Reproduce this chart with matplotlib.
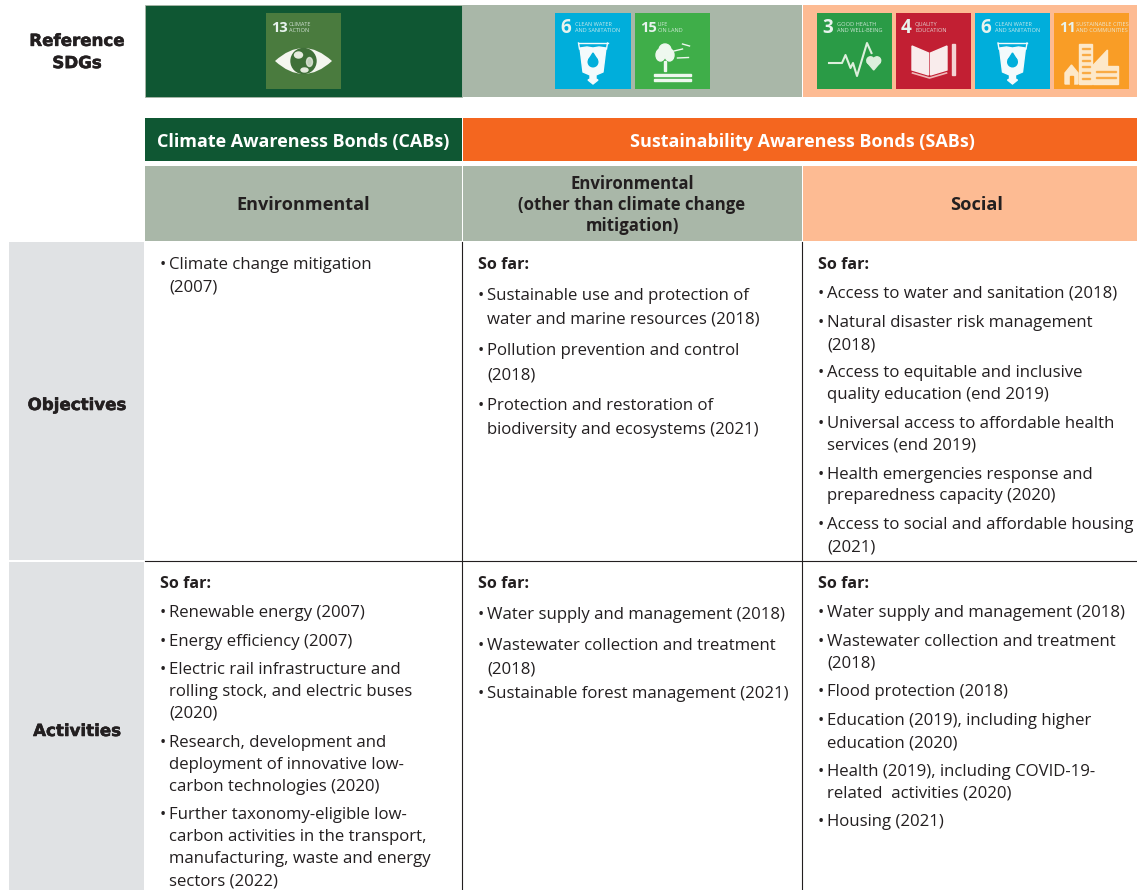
import matplotlib
matplotlib.use('Agg')
import matplotlib.pyplot as plt
from matplotlib.patches import Rectangle, Polygon, Ellipse, Circle, PathPatch
from matplotlib.path import Path
import matplotlib.patheffects as pe

plt.rcParams['font.family'] = ['Open Sans', 'DejaVu Sans']

DARK_GREEN = '#0f5733'
SAGE = '#a9b7a8'
ORANGE = '#f4661f'
PEACH = '#fdbb93'
GREY = '#e0e2e4'
INK = '#231f20'
NARROW = ['Liberation Sans Narrow', 'Open Sans']

# table text
band_titles = ['Climate Awareness Bonds (CABs)', 'Sustainability Awareness Bonds (SABs)']
col_titles = ['Environmental', 'Environmental\n(other than climate change\nmitigation)', 'Social']
row_titles = ['Objectives', 'Activities']

obj_env = ['• Climate change mitigation', ' (2007)']
obj_env_y = [263, 285]
obj_other = ['So far:', '• Sustainable use and protection of', ' water and marine resources (2018)',
             '• Pollution prevention and control', ' (2018)',
             '• Protection and restoration of', ' biodiversity and ecosystems (2021)']
obj_other_y = [263, 294, 318, 349, 373, 404, 428]
obj_social = ['So far:', '• Access to water and sanitation (2018)',
              '• Natural disaster risk management', ' (2018)',
              '• Access to equitable and inclusive', ' quality education (end 2019)',
              '• Universal access to affordable health', ' services (end 2019)',
              '• Health emergencies response and', ' preparedness capacity (2020)',
              '• Access to social and affordable housing', ' (2021)']
obj_social_y = [263, 292, 321, 343, 371, 393, 422, 444, 473, 494, 523, 545]

act_env = ['So far:', '• Renewable energy (2007)', '• Energy efficiency (2007)',
           '• Electric rail infrastructure and', ' rolling stock, and electric buses', ' (2020)',
           '• Research, development and', ' deployment of innovative low-', ' carbon technologies (2020)',
           '• Further taxonomy-eligible low-', ' carbon activities in the transport,',
           ' manufacturing, waste and energy', ' sectors (2022)']
act_env_y = [582, 611, 640, 668, 690, 712, 741, 763, 785, 813, 835, 857, 879]
act_other = ['So far:', '• Water supply and management (2018)',
             '• Wastewater collection and treatment', ' (2018)', '• Sustainable forest management (2021)']
act_other_y = [582, 613, 644, 668, 692]
act_social = ['So far:', '• Water supply and management (2018)',
              '• Wastewater collection and treatment', ' (2018)', '• Flood protection (2018)',
              '• Education (2019), including higher', ' education (2020)',
              '• Health (2019), including COVID-19-', ' related  activities (2020)', '• Housing (2021)']
act_social_y = [582, 611, 640, 662, 690, 719, 741, 770, 792, 820]

# SDG tiles: number, caption, colour
sdg13 = ('13', 'CLIMATE\nACTION', '#4a7b3e')
sdg6 = ('6', 'CLEAN WATER\nAND SANITATION', '#00aedb')
sdg15 = ('15', 'LIFE\nON LAND', '#3fae49')
sdg3 = ('3', 'GOOD HEALTH\nAND WELL-BEING', '#2a9b46')
sdg4 = ('4', 'QUALITY\nEDUCATION', '#c21f33')
sdg11 = ('11', 'SUSTAINABLE CITIES\nAND COMMUNITIES', '#f99d26')

fig = plt.figure(figsize=(11.37, 8.9), dpi=100)
ax = fig.add_axes([0, 0, 1, 1])
ax.set_xlim(0, 1137)
ax.set_ylim(890, 0)
ax.axis('off')


def box(x0, y0, x1, y1, color, **kw):
    ax.add_patch(Rectangle((x0, y0), x1 - x0, y1 - y0, facecolor=color, edgecolor='none', **kw))


def body(x, lines, ys):
    for line, y in zip(lines, ys):
        y = y + 2
        if line.startswith('• '):
            ax.text(x, y, '•', fontsize=12.1, color=INK, va='center')
            ax.text(x + 9, y, line[2:], fontsize=12.1, color=INK, va='center')
        elif line.startswith(' '):
            ax.text(x + 9, y, line[1:], fontsize=12.1, color=INK, va='center')
        else:
            ax.text(x, y, line, fontsize=11.6, color=INK, va='center', fontweight='bold')


def heavy(x, y, s):
    t = ax.text(x, y, s, fontsize=12, color=INK, fontweight='bold', ha='center', va='center',
                fontfamily=['DejaVu Sans'], linespacing=1.3)
    t.set_path_effects([pe.withStroke(linewidth=0.4, foreground=INK)])


def glyph(kind, cx, cy):
    if kind == '13':
        eye = Path([(cx - 28.5, cy), (cx, cy - 26), (cx + 28.5, cy), (cx, cy + 26), (cx - 28.5, cy)],
                   [Path.MOVETO, Path.CURVE3, Path.CURVE3, Path.CURVE3, Path.CURVE3])
        ax.add_patch(PathPatch(eye, facecolor='#f4f6ef', edgecolor='none'))
        ax.add_patch(Circle((cx, cy), 12.5, color='#3f6f38'))
        ax.add_patch(Ellipse((cx - 5, cy - 6), 8, 6, color='#e6ecdf'))
        ax.add_patch(Ellipse((cx + 6, cy + 1), 6, 9, color='#e6ecdf', alpha=0.8))
        ax.add_patch(Ellipse((cx + 1, cy + 9), 7, 4, color='#e6ecdf'))
    elif kind == '6':
        fill = '#f3fafc'
        ax.plot([cx - 14.5, cx + 14.5], [cy - 18, cy - 18], color=fill, lw=1)
        ax.plot([cx - 14.5, cx - 13.5], [cy - 18, cy - 12], color=fill, lw=1)
        ax.plot([cx + 14.5, cx + 13.5], [cy - 18, cy - 12], color=fill, lw=1)
        ax.add_patch(Polygon([(cx - 13, cy - 13), (cx - 6, cy - 14), (cx, cy - 13), (cx + 6, cy - 14),
                              (cx + 13, cy - 13), (cx + 10, cy + 11), (cx + 3, cy + 14), (cx + 3, cy + 18),
                              (cx + 5, cy + 19), (cx, cy + 23), (cx - 5, cy + 19), (cx - 3, cy + 18),
                              (cx - 3, cy + 14), (cx - 10, cy + 11)], color=fill))
        ax.add_patch(Circle((cx, cy + 1), 4.8, color=sdg6[2]))
        ax.add_patch(Polygon([(cx - 4.4, cy - 1), (cx, cy - 8), (cx + 4.4, cy - 1)], color=sdg6[2]))
    elif kind == '15':
        fill = '#eef8ef'
        ax.add_patch(Ellipse((cx - 12, cy - 6), 9, 12, color=fill))
        ax.add_patch(Ellipse((cx - 3, cy - 6), 9, 12, color=fill))
        ax.add_patch(Ellipse((cx - 7.5, cy - 11), 12, 12, color=fill))
        ax.add_patch(Rectangle((cx - 8.5, cy), 2, 10, color=fill))
        ax.add_patch(Rectangle((cx - 18.5, cy + 13), 37, 2.4, color=fill))
        ax.add_patch(Rectangle((cx - 18.5, cy + 17.5), 37, 2.4, color=fill))
        ax.plot([cx + 1.5, cx + 10], [cy - 10, cy - 12], color=fill, lw=1)
        ax.plot([cx + 10, cx + 17], [cy - 17, cy - 15], color=fill, lw=1)
        ax.plot([cx + 5, cx + 16], [cy - 3, cy - 3.5], color=fill, lw=1)
    elif kind == '3':
        fill = '#dcefdc'
        ax.plot([cx - 25.5, cx - 12.5, cx - 9, cx - 4, cx - 1.5, cx + 2.5, cx + 12.5, cx + 17],
                [cy + 2, cy + 2, cy - 6, cy + 7, cy + 2, cy + 15, cy - 18, cy - 8],
                color=fill, lw=1.5)
        ax.add_patch(Circle((cx + 16, cy - 0.5), 3.7, color=fill))
        ax.add_patch(Circle((cx + 22.5, cy - 0.5), 3.7, color=fill))
        ax.add_patch(Polygon([(cx + 12.5, cy + 1), (cx + 26, cy + 1), (cx + 19.2, cy + 9)], color=fill))
    elif kind == '4':
        fill = '#f9ecec'
        ax.add_patch(Polygon([(cx - 21.5, cy - 15), (cx - 5, cy - 8), (cx - 5, cy + 14), (cx - 21.5, cy + 9)],
                             color=fill))
        ax.add_patch(Polygon([(cx - 3, cy - 8), (cx + 13.5, cy - 15), (cx + 13.5, cy + 9), (cx - 3, cy + 14)],
                             color=fill))
        ax.plot([cx - 21, cx - 4, cx + 13], [cy + 12, cy + 17, cy + 12], color='#efb9b9', lw=1.2)
        ax.add_patch(Rectangle((cx + 18.5, cy - 17), 3, 31, color='#f4d3d3'))
    elif kind == '11':
        fill = '#fde8c9'
        ax.add_patch(Rectangle((cx - 12.5, cy - 17), 13, 40, color=fill))
        ax.add_patch(Rectangle((cx + 1, cy + 5), 25.5, 18, color=fill))
        ax.add_patch(Polygon([(cx + 1, cy + 5), (cx + 16, cy - 11), (cx + 16, cy + 5)], color=fill))
        ax.add_patch(Polygon([(cx - 26.5, cy + 12), (cx - 20, cy + 4), (cx - 13.5, cy + 12), (cx - 13.5, cy + 23),
                              (cx - 26.5, cy + 23)], color=fill))
        ax.add_patch(Rectangle((cx - 21.5, cy + 15), 3, 8, color=sdg11[2]))
        for i in range(6):
            ax.add_patch(Rectangle((cx - 10, cy - 13 + i * 6), 8, 1.2, color=sdg11[2], alpha=0.7))
        for i in range(2):
            ax.add_patch(Rectangle((cx + 4, cy + 10 + i * 6), 20, 1.2, color=sdg11[2], alpha=0.7))


def tile(x0, sdg, w, cap_x, y0=13, y1=89):
    num, caption, color = sdg
    box(x0, y0, x0 + w, y1, color)
    pale = '#e8f3ee'
    size = 13.5 if len(num) == 1 else 10.5
    ax.text(x0 + 5, y0 + 15, num, fontsize=size, color=pale, fontweight='bold', va='center', fontfamily=NARROW)
    ax.text(x0 + cap_x, y0 + 14.5, caption, fontsize=4.1, color=pale, va='center', linespacing=1.45,
            alpha=0.85, fontfamily=NARROW)
    glyph(num, x0 + w / 2, y0 + 48)


# SDG row
ax.add_patch(Rectangle((145, 5), 317, 92, facecolor=DARK_GREEN, edgecolor=SAGE, linewidth=0.6))
box(463, 5, 802, 97, SAGE)
box(803, 5, 1137, 97, PEACH)
heavy(77, 52, 'Reference\nSDGs')
tile(266, sdg13, 75, 23)
tile(555, sdg6, 76, 20)
tile(635, sdg15, 75, 23)
tile(817, sdg3, 75, 20)
tile(896, sdg4, 75, 19)
tile(975, sdg6, 75, 20)
tile(1054, sdg11, 75, 22)

# band headers
box(145, 118, 462, 161, DARK_GREEN)
box(463, 118, 1137, 161, ORANGE)
ax.text(303, 142, band_titles[0], fontsize=13, color='white', fontweight='bold', ha='center', va='center')
ax.text(802, 142, band_titles[1], fontsize=13, color='white', fontweight='bold', ha='center', va='center')

# column headers
box(145, 166, 462, 241, SAGE)
box(463, 166, 802, 241, SAGE)
box(803, 166, 1137, 241, PEACH)
ax.text(303, 205, col_titles[0], fontsize=13.1, color=INK, fontweight='bold', ha='center', va='center')
ax.text(632, 205, col_titles[1], fontsize=12.1, color=INK, fontweight='bold', ha='center', va='center',
        linespacing=1.23)
ax.text(977, 205, col_titles[2], fontsize=13.1, color=INK, fontweight='bold', ha='center', va='center')

# row headers
box(9, 242, 144, 560, GREY)
box(9, 562, 144, 890, GREY)
heavy(77, 405, row_titles[0])
heavy(77, 731, row_titles[1])

# rules
ax.plot([462.3, 462.3], [242, 890], color=INK, lw=0.8)
ax.plot([802.3, 802.3], [242, 890], color=INK, lw=0.8)
ax.plot([145, 1137], [560.5, 560.5], color=INK, lw=0.8)

body(160, obj_env, obj_env_y)
body(478, obj_other, obj_other_y)
body(818, obj_social, obj_social_y)
body(160, act_env, act_env_y)
body(478, act_other, act_other_y)
body(818, act_social, act_social_y)

fig.savefig('out.png', dpi=100)
